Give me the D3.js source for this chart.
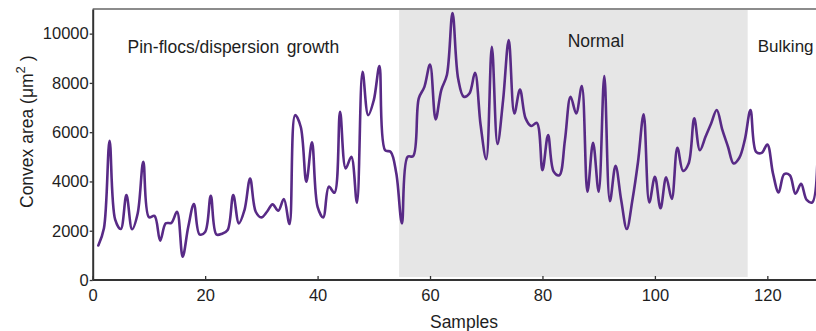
<!DOCTYPE html>
<html>
<head>
<meta charset="utf-8">
<script src="https://cdn.jsdelivr.net/npm/d3@7/dist/d3.min.js"></script>
<style>
  html, body { margin: 0; padding: 0; background: #fff; }
  svg { display: block; font-family: Arial, "Liberation Sans", sans-serif; }
</style>
</head>
<body>
<svg id="chart" width="816" height="331"></svg>
<script>
// Sample index and convex area per sample (µm²)
const samples = d3.range(1, 130);
const convexArea = [
  1400, 2100, 5650, 2450, 2070, 3450, 2060, 2700, 4800, 2550,
  2600, 1600, 2300, 2320, 2770, 950, 2160, 3080, 1850, 1950,
  3420, 1850, 1880, 2030, 3450, 2300, 2840, 4120, 2770, 2540,
  2770, 3070, 2810, 3290, 2270, 6690, 6220, 3990, 5590, 2970,
  2540, 3790, 3540, 6830, 4530, 5000, 3140, 8450, 6690, 7300,
  8680, 5270, 5200, 4330, 2300, 5000, 5030, 7370, 7840, 8750,
  6520, 7710, 8320, 10840, 8180, 7440, 7570, 8410, 6290, 4900,
  9470, 5520, 7300, 9740, 6760, 7730, 6560, 6250, 6380, 4460,
  5880, 4400, 4250, 5680, 7440, 6760, 7870, 3580, 5570, 3580,
  8280, 3200, 4640, 3250, 2070, 3250, 4800, 6730, 3150, 4190,
  2910, 4170, 3290, 5370, 4430, 4730, 6560, 5270, 5810, 6350,
  6900, 6090, 5410, 4730, 4950, 5700, 6900, 5200, 5160, 5500,
  4330, 3550, 4300, 4250, 3500, 3900, 3250, 3150, 9500
];

// Sludge-state phases along the sample axis
const phaseNames = ["Pin-flocs/dispersion growth", "Normal", "Bulking"];
const phaseStart = [0, 54.5, 116.5];
const phaseEnd = [54.5, 116.5, 135];
const phaseShaded = [false, true, false];
const phaseLabelX = [6.2, 89.5, 118.3];
const phaseLabelY = [9200, 9460, 9270];
const phaseLabelAnchor = ["start", "middle", "start"];

const xTicks = [0, 20, 40, 60, 80, 100, 120];
const yTicks = [0, 2000, 4000, 6000, 8000, 10000];

const svg = d3.select("#chart");
const x = d3.scaleLinear().domain([0, 130]).range([92.7, 92.7 + 5.622 * 130]);
const y = d3.scaleLinear().domain([0, 11000]).range([280, 9]);
const W = 816;

// shaded phase band
phaseStart.forEach((s, i) => {
  if (!phaseShaded[i]) return;
  svg.append("rect")
    .attr("x", x(s))
    .attr("y", y(11000) + 1)
    .attr("width", x(phaseEnd[i]) - x(s))
    .attr("height", y(0) - y(11000) - 4)
    .attr("fill", "#e6e6e6");
});

// phase labels
phaseNames.forEach((name, i) => {
  svg.append("text")
    .attr("x", x(phaseLabelX[i]))
    .attr("y", y(phaseLabelY[i]))
    .attr("text-anchor", phaseLabelAnchor[i])
    .attr("font-size", i === 2 ? 17 : 17.5)
    .attr("word-spacing", i === 0 ? 2.5 : 0)
    .attr("fill", "#1e1e1e")
    .text(name);
});

// data line
const line = d3.line()
  .x((d, i) => x(samples[i]))
  .y(d => y(d))
  .curve(d3.curveCatmullRom.alpha(0.5));

svg.append("path")
  .datum(convexArea)
  .attr("d", line)
  .attr("fill", "none")
  .attr("stroke", "#582a86")
  .attr("stroke-width", 2.6)
  .attr("stroke-linejoin", "round")
  .attr("stroke-linecap", "round");

// frame: top border
svg.append("line")
  .attr("x1", x(0)).attr("x2", W)
  .attr("y1", y(11000)).attr("y2", y(11000))
  .attr("stroke", "#666").attr("stroke-width", 1.5);

// x axis (ticks pointing inward)
const xAxis = svg.append("g")
  .attr("transform", `translate(0,${y(0)})`)
  .call(d3.axisBottom(x).tickValues(xTicks).tickSize(-4).tickPadding(9).tickSizeOuter(0));
xAxis.select(".domain").attr("stroke", "#333").attr("stroke-width", 2)
  .attr("d", `M${x(0)},0H${W}`);
xAxis.selectAll(".tick line").attr("stroke", "#333").attr("stroke-width", 1.3);
xAxis.selectAll(".tick text").attr("font-size", 16.5).attr("fill", "#1e1e1e")
  .attr("font-family", "Arial, 'Liberation Sans', sans-serif");

// y axis (ticks pointing outward)
const yAxis = svg.append("g")
  .attr("transform", `translate(${x(0)},0)`)
  .call(d3.axisLeft(y).tickValues(yTicks).tickSize(3).tickPadding(1).tickSizeOuter(0).tickFormat(d3.format("d")));
yAxis.select(".domain").attr("stroke", "#333").attr("stroke-width", 2);
yAxis.selectAll(".tick line").attr("stroke", "#333").attr("stroke-width", 1.3);
yAxis.selectAll(".tick text").attr("font-size", 16.5).attr("fill", "#1e1e1e")
  .attr("font-family", "Arial, 'Liberation Sans', sans-serif");

// axis titles
svg.append("text")
  .attr("x", 464).attr("y", 328)
  .attr("text-anchor", "middle")
  .attr("font-size", 17.5)
  .attr("fill", "#1e1e1e")
  .text("Samples");

const yTitle = svg.append("text")
  .attr("transform", "translate(33,208) rotate(-90)")
  .attr("text-anchor", "start")
  .attr("font-size", 17.5)
  .attr("fill", "#1e1e1e");
yTitle.append("tspan").text("Convex area (μm");
yTitle.append("tspan").attr("dy", -8).attr("font-size", 13).text("2");
yTitle.append("tspan").attr("dy", 8).text(" )");
</script>
</body>
</html>
